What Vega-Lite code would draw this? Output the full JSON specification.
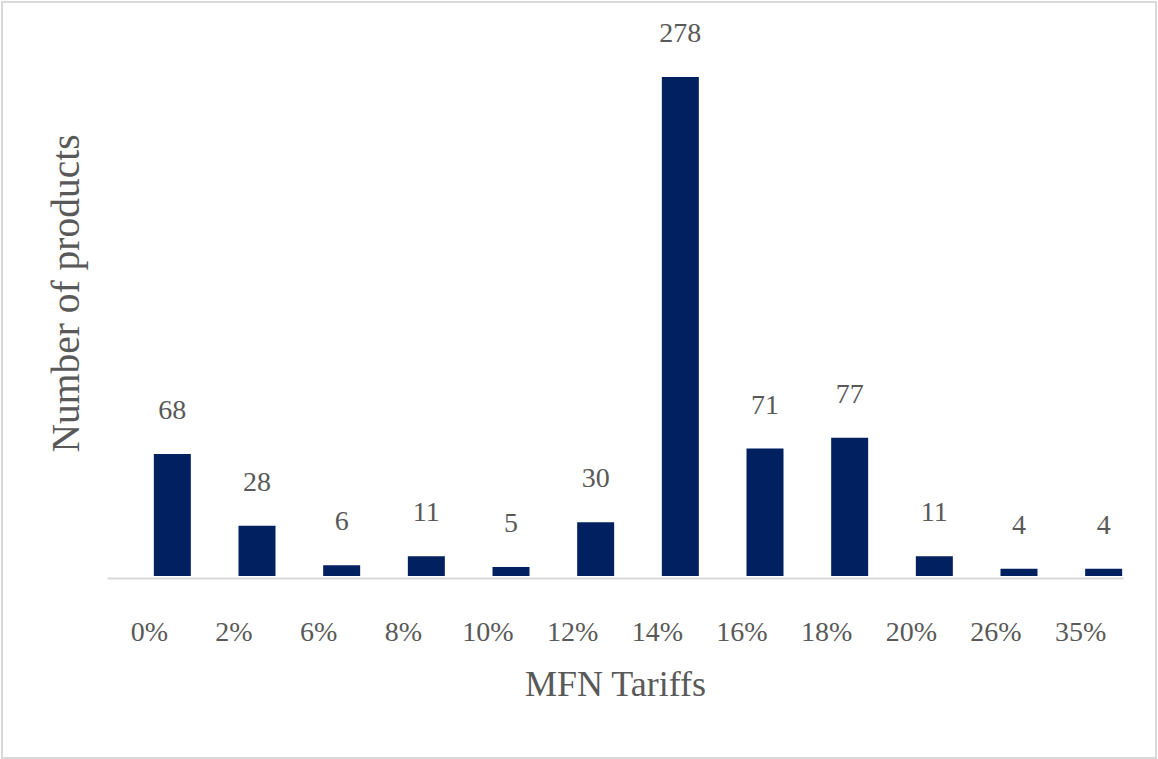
{
  "$schema": "https://vega.github.io/schema/vega-lite/v6.json",
  "width": 1154,
  "height": 756,
  "autosize": {"type": "none"},
  "padding": {"left": 2, "right": 2, "top": 2, "bottom": 1},
  "background": "white",
  "config": {
    "view": {"stroke": "#d9d9d9", "strokeWidth": 2},
    "font": "Liberation Serif"
  },
  "data": {
    "values": [
      {"tariff": "0%", "count": 68},
      {"tariff": "2%", "count": 28},
      {"tariff": "6%", "count": 6},
      {"tariff": "8%", "count": 11},
      {"tariff": "10%", "count": 5},
      {"tariff": "12%", "count": 30},
      {"tariff": "14%", "count": 278},
      {"tariff": "16%", "count": 71},
      {"tariff": "18%", "count": 77},
      {"tariff": "20%", "count": 11},
      {"tariff": "26%", "count": 4},
      {"tariff": "35%", "count": 4}
    ]
  },
  "encoding": {
    "x": {
      "field": "tariff",
      "type": "ordinal",
      "sort": null,
      "scale": {"range": [105, 1121], "paddingInner": 0, "paddingOuter": 0},
      "axis": {
        "title": "MFN Tariffs",
        "orient": "bottom",
        "offset": -180,
        "labelAngle": 0,
        "ticks": false,
        "tickSize": 0,
        "domainColor": "#d9d9d9",
        "domainWidth": 2,
        "labelFont": "Liberation Serif",
        "labelFontSize": 28,
        "labelColor": "#595959",
        "labelBaseline": "alphabetic",
        "labelPadding": 62,
        "titleFont": "Liberation Serif",
        "titleFontSize": 36,
        "titleFontWeight": "normal",
        "titleColor": "#595959",
        "titleBaseline": "alphabetic",
        "titleY": 117.5
      }
    },
    "y": {
      "field": "count",
      "type": "quantitative",
      "scale": {"domain": [0, 319.8], "range": [574, 0], "nice": false, "zero": true},
      "axis": {
        "title": "Number of products",
        "domain": false,
        "ticks": false,
        "labels": false,
        "grid": false,
        "titleFont": "Liberation Serif",
        "titleFontSize": 39.5,
        "titleFontWeight": "normal",
        "titleColor": "#595959",
        "titleBaseline": "alphabetic",
        "titleX": 76,
        "titleY": 291
      }
    }
  },
  "layer": [
    {"mark": {"type": "bar", "color": "#002060", "width": 37, "xOffset": 23}},
    {
      "mark": {"type": "text", "xOffset": 23, "dy": -35, "baseline": "alphabetic", "fontSize": 28, "color": "#595959", "font": "Liberation Serif"},
      "encoding": {"text": {"field": "count", "type": "quantitative"}}
    }
  ]
}
